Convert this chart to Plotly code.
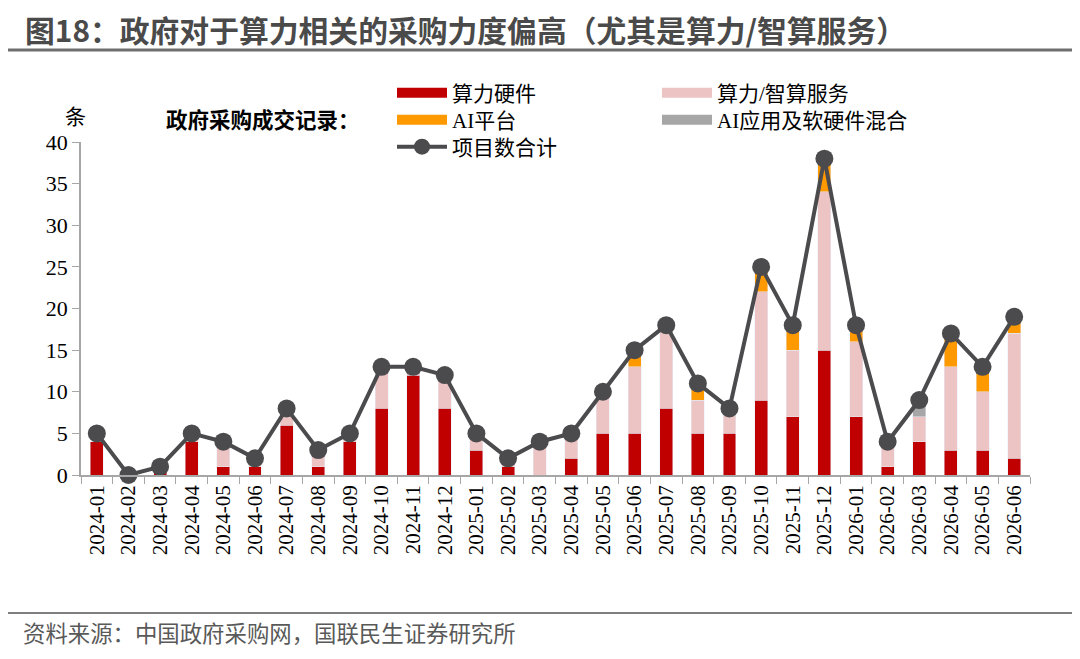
import plotly.graph_objects as go

# 月份
months = ["2024-01", "2024-02", "2024-03", "2024-04", "2024-05", "2024-06",
          "2024-07", "2024-08", "2024-09", "2024-10", "2024-11", "2024-12",
          "2025-01", "2025-02", "2025-03", "2025-04", "2025-05", "2025-06",
          "2025-07", "2025-08", "2025-09", "2025-10", "2025-11", "2025-12",
          "2026-01", "2026-02", "2026-03", "2026-04", "2026-05", "2026-06"]

# 各类采购项目数
hardware = [4, 0, 1, 4, 1, 1, 6, 1, 4, 8, 12, 8,
            3, 1, 0, 2, 5, 5, 8, 5, 5, 9, 7, 15,
            7, 1, 4, 3, 3, 2]
service = [0, 0, 0, 1, 3, 1, 2, 2, 1, 5, 1, 4,
           2, 1, 4, 3, 5, 8, 10, 4, 3, 13, 8, 19,
           9, 3, 3, 10, 7, 15]
ai_platform = [0, 0, 0, 0, 0, 0, 0, 0, 0, 0, 0, 0,
               0, 0, 0, 0, 0, 2, 0, 2, 0, 3, 3, 4,
               2, 0, 0, 4, 3, 2]
ai_mixed = [0, 0, 0, 0, 0, 0, 0, 0, 0, 0, 0, 0,
            0, 0, 0, 0, 0, 0, 0, 0, 0, 0, 0, 0,
            0, 0, 2, 0, 0, 0]
total = [5, 0, 1, 5, 4, 2, 8, 3, 5, 13, 13, 12,
         5, 2, 4, 5, 10, 15, 18, 11, 8, 25, 18, 38,
         18, 4, 9, 17, 13, 19]

serif = "Liberation Serif, Noto Sans CJK SC"
sans = "Noto Sans CJK SC"

# 页面有 8px 的 body 边距，图按此偏移
OFF = 8
W, H = 1080 - OFF, 659 - OFF
# 绘图区在页面上的像素位置
L, R, T, B = 81, 1030, 142, 475


def px(x):
    return (x - L) / (R - L)


def py(y):
    return (B - y) / (B - T)


colors = {"算力硬件": "#C00000", "算力/智算服务": "#ECC4C4",
          "AI平台": "#FF9900", "AI应用及软硬件混合": "#A6A6A6"}
# 名称, 数据, 图例编号
series = [("算力硬件", hardware, "legend"), ("算力/智算服务", service, "legend2"),
          ("AI平台", ai_platform, "legend3"), ("AI应用及软硬件混合", ai_mixed, "legend4")]

fig = go.Figure()
for name, vals, lg in series:
    fig.add_trace(go.Bar(x=months, y=vals, name=name, marker_color=colors[name],
                         showlegend=False))
# 图例用粗线表示色块
for name, vals, lg in series:
    fig.add_trace(go.Scatter(x=[None], y=[None], name=name, mode="lines",
                             line=dict(color=colors[name], width=11), legend=lg))
fig.add_trace(go.Scatter(x=months, y=total, name="项目数合计", mode="lines+markers",
                         line=dict(color="#4B4B4E", width=4),
                         marker=dict(size=18, color="#4B4B4E"),
                         cliponaxis=False, legend="legend5"))

leg = dict(xanchor="left", yanchor="middle", itemwidth=50,
           font=dict(size=21, family=serif), bgcolor="rgba(0,0,0,0)")
fig.update_layout(
    width=W, height=H,
    barmode="stack", bargap=0.59,
    plot_bgcolor="white", paper_bgcolor="white",
    margin=dict(l=L - OFF, r=W - (R - OFF), t=T - OFF, b=H - (B - OFF)),
    font=dict(family=serif, size=21, color="#000000"),
    legend=dict(x=px(392), y=py(93), **leg),
    legend2=dict(x=px(657), y=py(93), **leg),
    legend3=dict(x=px(392), y=py(120), **leg),
    legend4=dict(x=px(657), y=py(120), **leg),
    legend5=dict(x=px(392), y=py(147), **leg),
    xaxis=dict(type="category", range=[-0.5, len(months) - 0.5], tickangle=-90,
               showline=True, linecolor="#A6A6A6", linewidth=1.5, ticks="outside",
               tickson="boundaries", ticklen=7, tickcolor="#A6A6A6",
               tickfont=dict(size=21), showgrid=False),
    yaxis=dict(range=[0, 40], dtick=5, showline=True, linecolor="#A6A6A6",
               linewidth=1.5, ticks="outside", ticklen=7, tickcolor="#A6A6A6",
               tickfont=dict(size=22), showgrid=False, zeroline=False),
)

fig.add_annotation(text="条", xref="paper", yref="paper", x=px(63), y=py(103),
                   showarrow=False, font=dict(size=21))
fig.add_annotation(text="<b>政府采购成交记录：</b>", xref="paper", yref="paper",
                   x=px(164), y=py(119), xanchor="left", yanchor="middle",
                   showarrow=False, font=dict(size=21.5, family=sans))
fig.add_annotation(text="<b>图18：政府对于算力相关的采购力度偏高（尤其是算力/智算服务）</b>",
                   xref="paper", yref="paper", x=px(23), y=py(29),
                   xanchor="left", yanchor="middle", showarrow=False,
                   font=dict(size=29.8, family=sans, color="#4A4A4A"))
fig.add_annotation(text="资料来源：中国政府采购网，国联民生证券研究所",
                   xref="paper", yref="paper", x=px(21), y=py(632),
                   xanchor="left", yanchor="middle", showarrow=False,
                   font=dict(size=22.4, family=sans, color="#595959"))
fig.add_shape(type="line", xref="paper", yref="paper",
              x0=px(8), x1=px(1075), y0=py(50), y1=py(50),
              line=dict(color="#6E6E6E", width=3))
fig.add_shape(type="line", xref="paper", yref="paper",
              x0=px(8), x1=px(1075), y0=py(613), y1=py(613),
              line=dict(color="#7F7F7F", width=2))

fig.write_html("out.html")
